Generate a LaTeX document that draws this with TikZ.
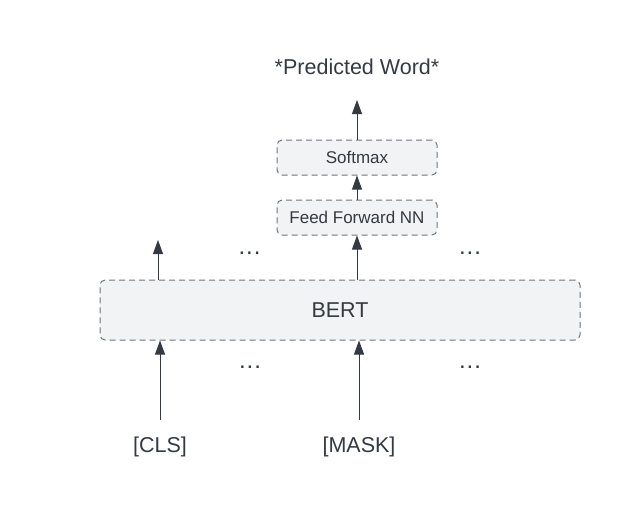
\documentclass[tikz,border=0pt]{standalone}
\usepackage{fontspec}
\setmainfont{Liberation Sans}
\usetikzlibrary{arrows.meta}
\definecolor{ink}{HTML}{343A42}
\definecolor{boxfill}{HTML}{F2F3F5}
\definecolor{boxline}{HTML}{70747A}
\tikzset{
  dbox/.style={draw=boxline, fill=boxfill, dash pattern=on 6pt off 4pt, line width=1pt, rounded corners=5pt, inner sep=0pt, text=ink},
  conn/.style={draw=ink, line width=0.9pt, -{Triangle[length=14pt,width=10pt]}},
  lbl/.style={text=ink, inner sep=0pt},
  big/.style={font=\fontsize{21.5}{25}\selectfont},
  small/.style={font=\fontsize{17}{20}\selectfont},
  dots/.style={text=ink, inner sep=0pt, font=\fontsize{24}{28}\selectfont}
}
\begin{document}
\begin{tikzpicture}[x=1pt,y=-1pt]
\useasboundingbox (0,0) rectangle (620,520);
\node[dbox, big, minimum width=480pt, minimum height=60pt] (bert) at (340,310) {BERT};
\node[dbox, small, minimum width=160pt, minimum height=35pt] (ffnn) at (357,217.5) {Feed Forward NN};
\node[dbox, small, minimum width=160pt, minimum height=35pt] (soft) at (357,157.5) {Softmax};
\node[lbl, big] (pred) at (357,67) {*Predicted Word*};
\node[lbl, big] (cls) at (160,447) {[CLS]};
\node[lbl, big] (mask) at (359,447) {[MASK]};
\node[dots] (d1) at (250,253) {\kern-1pt.\kern1pt.\kern1pt.};
\node[dots] (d2) at (470,253) {.\kern1pt.\kern1pt.};
\node[dots] (d3) at (250,367) {.\kern1pt.\kern1pt.};
\node[dots] (d4) at (470,367) {.\kern1pt.\kern1pt.};
\coordinate (clsTop) at (160,420);
\coordinate (maskTop) at (359,420);
\coordinate (outCls) at (158,240);
\coordinate (predBot) at (357,100);
\draw[conn] (clsTop) -- (clsTop |- bert.south);
\draw[conn] (maskTop) -- (maskTop |- bert.south);
\draw[conn] (outCls |- bert.north) -- (outCls);
\draw[conn] (ffnn.south |- bert.north) -- (ffnn.south);
\draw[conn] (ffnn.north) -- (soft.south);
\draw[conn] (soft.north) -- (predBot);
\end{tikzpicture}
\end{document}
